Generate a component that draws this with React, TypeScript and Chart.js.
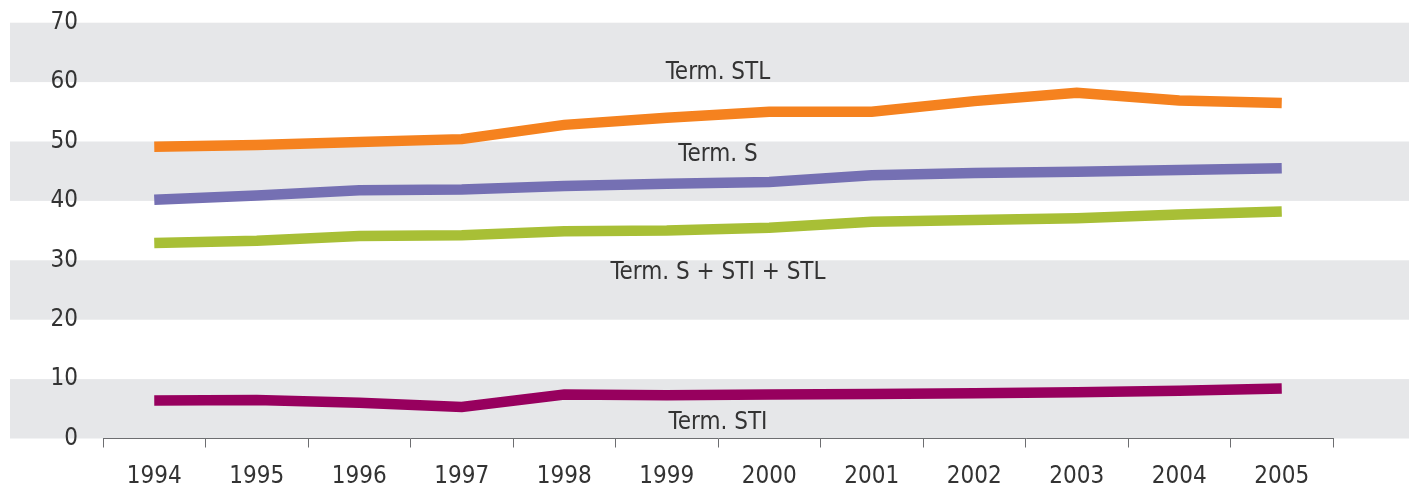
import React, { useEffect, useRef } from "react";
import { Chart, registerables } from "chart.js";

Chart.register(...registerables);

const years = ["1994", "1995", "1996", "1997", "1998", "1999", "2000", "2001", "2002", "2003", "2004", "2005"];
const termSTL = [49.1, 49.4, 49.9, 50.4, 52.8, 54.0, 55.0, 55.0, 56.8, 58.2, 56.9, 56.5];
const termS = [40.2, 40.9, 41.8, 41.9, 42.5, 42.9, 43.2, 44.3, 44.7, 44.9, 45.2, 45.5];
const termTotal = [32.9, 33.3, 34.1, 34.2, 34.9, 35.0, 35.5, 36.5, 36.8, 37.1, 37.7, 38.2];
const termSTI = [6.4, 6.5, 6.0, 5.3, 7.4, 7.3, 7.4, 7.5, 7.6, 7.8, 8.05, 8.4];

const seriesNames = ["Term. STL", "Term. S", "Term. S + STI + STL", "Term. STI"];
const seriesColors = ["#F5821F", "#7570B3", "#A8BF36", "#97005E"];

// text annotations: label, x (category index), y (value)
const annotationTexts = ["Term. STL", "Term. S", "Term. S + STI + STL", "Term. STI"];
const annotationX = [5.5, 5.5, 5.5, 5.5];
const annotationY = [61.5, 47.7, 27.9, 2.6];

const greyBands = [
  [0, 10],
  [20, 30],
  [40, 50],
  [60, 70],
];
const yMin = 0;
const yMax = 70;
const yStep = 10;

const FONT = '"DejaVu Sans Condensed", "Liberation Sans Narrow", sans-serif';
const FONT_SIZE = 24;
const TEXT_COLOR = "#333333";

export default function App() {
  const ref = useRef<HTMLCanvasElement>(null);

  useEffect(() => {
    document.body.style.margin = "0";
    const canvas = ref.current;
    if (!canvas) return;

    const bandPlugin = {
      id: "greyBands",
      beforeDraw(chart: any) {
        const { ctx } = chart;
        const y = chart.scales.y;
        ctx.save();
        ctx.fillStyle = "#E6E7E9";
        for (const [a, b] of greyBands) {
          const top = y.getPixelForValue(b);
          const bot = y.getPixelForValue(a);
          ctx.fillRect(10, top, chart.width - 10, bot - top);
        }
        ctx.restore();
      },
    };

    const labelPlugin = {
      id: "termLabels",
      afterDatasetsDraw(chart: any) {
        const { ctx } = chart;
        const x = chart.scales.x;
        const y = chart.scales.y;
        ctx.save();
        ctx.font = `${FONT_SIZE}px ${FONT}`;
        ctx.fillStyle = TEXT_COLOR;
        ctx.textAlign = "center";
        ctx.textBaseline = "middle";
        annotationTexts.forEach((t, i) => {
          ctx.fillText(t, x.getPixelForValue(annotationX[i]), y.getPixelForValue(annotationY[i]));
        });
        ctx.restore();
      },
    };

    const dataArrays = [termSTL, termS, termTotal, termSTI];

    const chart = new Chart(canvas, {
      type: "line",
      data: {
        labels: years,
        datasets: dataArrays.map((d, i) => ({
          label: seriesNames[i],
          data: d,
          borderColor: seriesColors[i],
          backgroundColor: seriesColors[i],
          borderWidth: 10.5,
          pointRadius: 0,
          pointHoverRadius: 0,
          tension: 0,
          fill: false,
          borderCapStyle: "butt",
          borderJoinStyle: "miter",
        })),
      },
      options: {
        animation: false,
        responsive: false,
        maintainAspectRatio: false,
        events: [],
        layout: { padding: { top: 22.7, right: 76, bottom: 0, left: 0 } },
        plugins: {
          legend: { display: false },
          tooltip: { enabled: false },
          title: { display: false },
        },
        scales: {
          x: {
            type: "category",
            offset: true,
            grid: {
              display: true,
              offset: true,
              drawOnChartArea: false,
              drawTicks: true,
              tickLength: 9,
              color: "#6D6E71",
              lineWidth: 1,
            },
            border: { display: true, color: "#6D6E71", width: 1 },
            ticks: {
              color: TEXT_COLOR,
              font: { family: FONT, size: FONT_SIZE },
              padding: 15,
              maxRotation: 0,
              autoSkip: false,
            },
            afterFit(s: any) {
              s.height = 52.5;
              s.paddingLeft = 0;
              s.paddingRight = 0;
            },
          },
          y: {
            min: yMin,
            max: yMax,
            grid: { display: false, drawTicks: false, tickLength: 0 },
            border: { display: false },
            ticks: {
              stepSize: yStep,
              color: TEXT_COLOR,
              font: { family: FONT, size: FONT_SIZE },
              padding: 25,
            },
            afterFit(s: any) {
              s.width = 103;
              s.paddingTop = 0;
              s.paddingBottom = 0;
            },
          },
        },
      },
      plugins: [bandPlugin, labelPlugin],
    } as any);

    return () => chart.destroy();
  }, []);

  return (
    <div style={{ width: 1409, height: 491 }}>
      <canvas ref={ref} width={1409} height={491} style={{ display: "block" }} />
    </div>
  );
}
